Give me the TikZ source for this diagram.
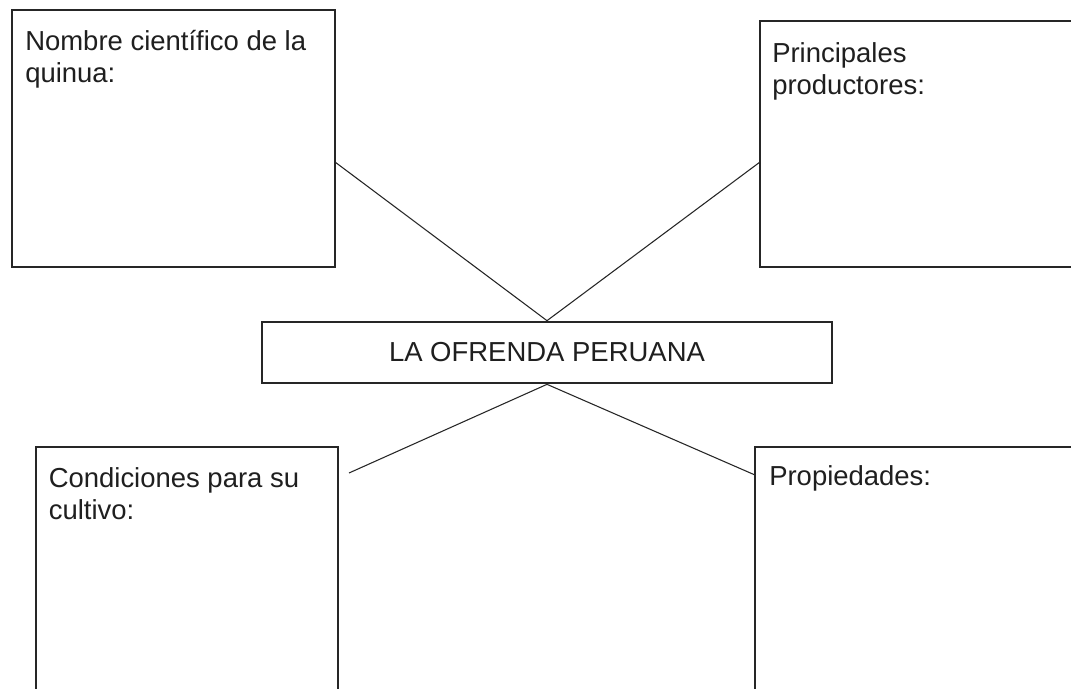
\documentclass[tikz,border=0pt]{standalone}
\usepackage{fontspec}
\setmainfont{Liberation Sans}
\begin{document}
\begin{tikzpicture}[x=0.75pt,y=-0.75pt,
  boxst/.style={draw=black!85, line width=2pt, rectangle, inner sep=0pt, fill=none},
  conn/.style={draw=black!85, line width=0.8pt},
  lbl/.style={anchor=base west, inner sep=0pt, font=\fontsize{20.6}{24}\selectfont, text=black!88},
  every node/.append style={font=\fontsize{20.6}{24}\selectfont}]
\useasboundingbox (0,0) rectangle (1071,689);
\clip (0,0) rectangle (1071,689);
\fill[white] (0,0) rectangle (1071,689);
% boxes
\node[boxst, minimum width=242.25pt, minimum height=192.75pt] (tl) at (173.5,138.5) {};
\node[boxst, minimum width=247.5pt, minimum height=184.5pt] (tr) at (925,144) {};
\node[boxst, minimum width=427.5pt, minimum height=45.75pt, text=black!88] (c) at (547,352.5) {LA OFRENDA PERUANA};
\node[boxst, minimum width=226.5pt, minimum height=197.25pt] (bl) at (187,578.5) {};
\node[boxst, minimum width=251.25pt, minimum height=197.25pt] (br) at (922.5,578.5) {};
% labels
\node[lbl] (tltext) at (25,50) {\parbox[t]{300pt}{\raggedright Nombre científico de la\\quinua:}};
\node[lbl] (trtext) at (772,62) {\parbox[t]{250pt}{\raggedright Principales\\productores:}};
\node[lbl] (bltext) at (48.5,487) {\parbox[t]{250pt}{\raggedright Condiciones para su\\cultivo:}};
\node[lbl] (brtext) at (769,485) {Propiedades:};
% connector end points on box borders
\coordinate (tlp) at (335,162);
\coordinate (trp) at (760,162);
\coordinate (blp) at (349,473);
\coordinate (brp) at (755,475);
\draw[conn] (tlp) -- (c.north);
\draw[conn] (trp) -- (c.north);
\draw[conn] (c.south) -- (blp);
\draw[conn] (c.south) -- (brp);
\end{tikzpicture}
\end{document}
